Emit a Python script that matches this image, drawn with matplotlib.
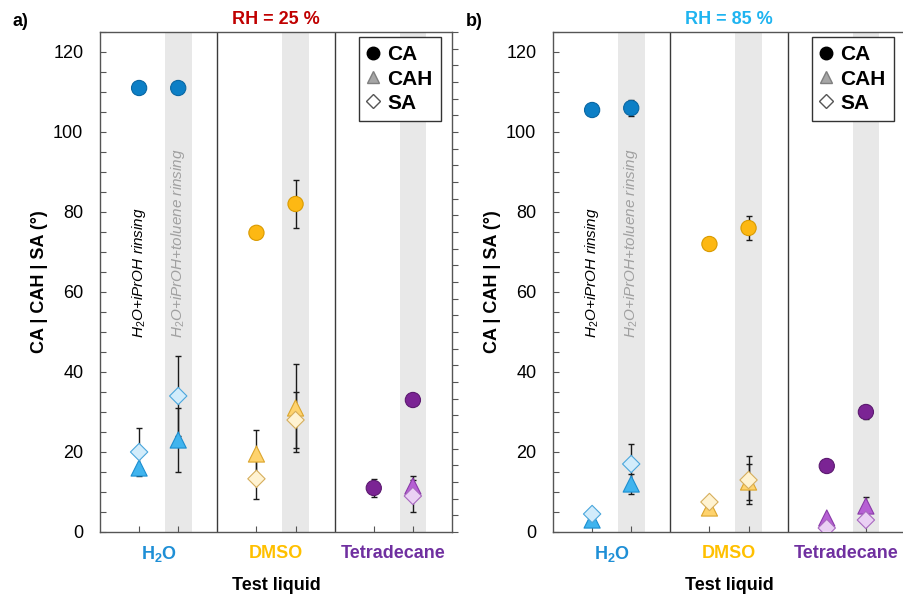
"""Contact angle / hysteresis / sliding angle at two humidities (panels a, b)."""

import numpy as np
import matplotlib

matplotlib.use("Agg")
import matplotlib.pyplot as plt
from matplotlib.lines import Line2D

plt.rcParams["font.family"] = ["Liberation Sans", "DejaVu Sans"]
plt.rcParams["mathtext.fontset"] = "custom"
plt.rcParams["mathtext.rm"] = "Liberation Sans"
plt.rcParams["mathtext.it"] = "Liberation Sans:italic"
plt.rcParams["mathtext.bf"] = "Liberation Sans:bold"

# positions: H2O (rinse 1, rinse 2), DMSO (1, 2), Tetradecane (1, 2)
liquids = [r"H$_\mathbf{2}$O", "DMSO", "Tetradecane"]
liquid_colors = ["#1e8fd6", "#ffc000", "#7030a0"]

# RH = 25 %
ca_25 = [111, 111, 74.8, 82, 11, 33]
ca_25_err = [0, 0, 0, 6, 2.2, 0]
cah_25 = [16, 23, 19.5, 31, np.nan, 11.5]
cah_25_err = [0, 8, 6, 11, 0, 2.5]
sa_25 = [20, 34, 13.3, 28, np.nan, 9]
sa_25_err = [6, 10, 5, 7, 0, 4]

# RH = 85 %
ca_85 = [105.5, 106, 72, 76, 16.5, 30]
ca_85_err = [0, 2, 0, 3, 0, 1.8]
cah_85 = [3, 12, 6, 12.5, 3.5, 6.5]
cah_85_err = [0, 2.5, 1.5, 4.5, 0, 2.3]
sa_85 = [4.5, 17, 7.5, 13, 1, 3]
sa_85_err = [0, 5, 0, 6, 0, 0]

# per point colours (one liquid per pair of points)
ca_face = ["#0c7fc6"] * 2 + ["#fdb813"] * 2 + ["#7b2494"] * 2
ca_edge = ["#0a67a3"] * 2 + ["#d99a00"] * 2 + ["#5c1a70"] * 2
cah_face = ["#40b4ee"] * 2 + ["#fed36e"] * 2 + ["#b660d4"] * 2
cah_edge = ["#1c8ed0"] * 2 + ["#dca52c"] * 2 + ["#8a3aa8"] * 2
sa_face = ["#d2ecfb"] * 2 + ["#fff3d2"] * 2 + ["#ead0f4"] * 2
sa_edge = ["#4aa6dc"] * 2 + ["#d6ae5c"] * 2 + ["#a868c0"] * 2

xpos = np.array([1, 2, 4, 5, 7, 8])

fig = plt.figure(figsize=(9.04, 6.0), dpi=100)
ax_a = fig.add_axes([100 / 904, 68 / 600, 352 / 904, 500 / 600])
ax_b = fig.add_axes([553 / 904, 68 / 600, 352 / 904, 500 / 600])


def draw_panel(ax, ca, ca_err, cah, cah_err, sa, sa_err, title, title_color):
    ax.set_xlim(0, 9)
    ax.set_ylim(0, 125)
    for x in (2, 5, 8):
        ax.axvspan(x - 0.34, x + 0.34, color="#e8e8e8", lw=0, zorder=0)
    for x in (3, 6):
        ax.axvline(x, color="#3a3a3a", lw=1.0, zorder=1)

    ekw = dict(fmt="none", ecolor="#1a1a1a", elinewidth=1.0, capsize=2, capthick=1.0, zorder=2)
    for vals, errs in ((ca, ca_err), (cah, cah_err), (sa, sa_err)):
        e = np.array(errs, dtype=float)
        m = e > 0
        ax.errorbar(xpos[m], np.array(vals)[m], yerr=e[m], **ekw)

    ax.scatter(xpos, ca, s=120, marker="o", c=ca_face, edgecolors=ca_edge, linewidths=0.8, zorder=3)
    ax.scatter(xpos, cah, s=135, marker="^", c=cah_face, edgecolors=cah_edge, linewidths=0.8, zorder=4)
    ax.scatter(xpos, sa, s=78, marker="D", c=sa_face, edgecolors=sa_edge, linewidths=0.8, zorder=5)

    for sp in ax.spines.values():
        sp.set_color("#555555")
        sp.set_linewidth(1.0)

    ax.set_yticks(np.arange(0, 121, 20))
    ax.set_yticks(np.arange(0, 126, 5), minor=True)
    ax.tick_params(axis="y", which="both", direction="in", length=4, width=0.8,
                   color="#555555", labelsize=13, pad=12, right=False)
    ax.set_xticks(xpos)
    ax.set_xticks([1.5, 4.5, 7.5], minor=True)
    ax.set_xticklabels([])
    ax.set_xticklabels(liquids, minor=True, fontweight="bold", fontsize=13)
    for lab, col in zip(ax.get_xticklabels(minor=True), liquid_colors):
        lab.set_color(col)
    ax.tick_params(axis="x", which="major", direction="in", length=4, width=0.8, color="#555555")
    ax.tick_params(axis="x", which="minor", length=0, pad=9)

    ax.set_xlabel("Test liquid", fontsize=13, fontweight="bold", labelpad=9)
    ax.set_ylabel("CA | CAH | SA (°)", fontsize=13, fontweight="bold", labelpad=4)
    ax.set_title(title, fontsize=13, fontweight="bold", color=title_color, pad=6)

    # secondary right-hand ticks
    ax2 = ax.twinx()
    ax2.set_ylim(0, 125)
    ax2.set_yticks(np.linspace(0, 125, 31))
    ax2.set_yticklabels([])
    ax2.tick_params(axis="y", direction="out", length=4, width=0.8, color="#555555")
    for sp in ax2.spines.values():
        sp.set_visible(False)

    ax.text(1, 48.5, r"H$_\mathit{2}$O+iPrOH rinsing", rotation=90, ha="center", va="bottom",
            fontsize=11, fontstyle="italic", color="black", zorder=6)
    ax.text(2, 48.5, r"H$_\mathit{2}$O+iPrOH+toluene rinsing", rotation=90, ha="center",
            va="bottom", fontsize=11, fontstyle="italic", color="#a0a0a0", zorder=6)

    handles = [
        Line2D([], [], marker="o", ls="none", mfc="black", mec="black", ms=9),
        Line2D([], [], marker="^", ls="none", mfc="#a6a6a6", mec="#7f7f7f", ms=9),
        Line2D([], [], marker="D", ls="none", mfc="white", mec="#555555", ms=7),
    ]
    leg = ax.legend(handles, ["CA", "CAH", "SA"], loc="upper right",
                    bbox_to_anchor=(0.969, 0.99), borderaxespad=0, fancybox=False,
                    framealpha=1, edgecolor="#333333", handlelength=0.55, handletextpad=0.4,
                    labelspacing=0.25, borderpad=0.4, prop=dict(size=15, weight="bold"))
    leg.get_frame().set_linewidth(1.0)
    leg.set_zorder(10)


draw_panel(ax_a, ca_25, ca_25_err, cah_25, cah_25_err, sa_25, sa_25_err, "RH = 25 %", "#c00000")
draw_panel(ax_b, ca_85, ca_85_err, cah_85, cah_85_err, sa_85, sa_85_err, "RH = 85 %", "#1fb4f0")

fig.text(20 / 904, 1 - 22 / 600, "a)", fontsize=13, fontweight="bold", ha="center", va="center")
fig.text(474 / 904, 1 - 22 / 600, "b)", fontsize=13, fontweight="bold", ha="center", va="center")

fig.savefig("out.png", dpi=100)
